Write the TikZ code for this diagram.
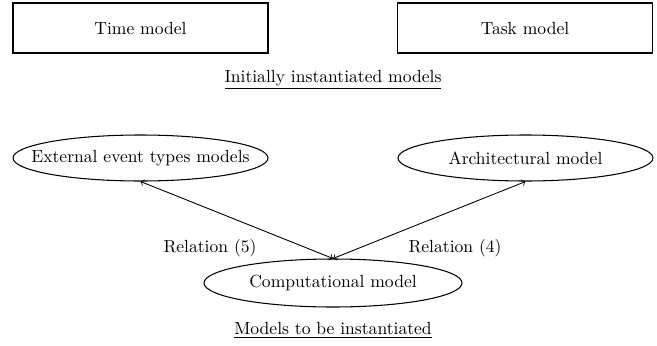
\documentclass[tikz,border=0pt]{standalone}
\usepackage{tikz}
\usetikzlibrary{shapes,arrows,positioning,calc}

\newcommand{\tightlabel}[1]{\makebox[0pt]{#1}}

\begin{document}
\begin{tikzpicture}[
 line width=0.6pt,
 model/.style={rectangle, draw, minimum width=5.1cm, minimum height=1cm, align=center},
 inst/.style={ellipse, draw, minimum width=5.1cm, minimum height=0.92cm, inner sep=0pt},
 arrow/.style={<->, line width=0.5pt},
 caption/.style={align=center},
 relation/.style={align=center}
]
\useasboundingbox (0,0) rectangle (13.14,-6.9);

% Row 1: initially instantiated models
\node[model] (time) at (2.81,-0.56) {Time model};
\node[model] (task) at (10.5,-0.56) {Task model};
\node[caption] (initial) at (6.66,-1.6) {\underline{Initially instantiated models}};

% Row 2: models to be instantiated
\node[inst] (external) at (2.81,-3.16) {\tightlabel{External event types models}};
\node[inst] (architecture) at (10.51,-3.16) {\tightlabel{Architectural model}};
\node[inst, minimum width=5.16cm, minimum height=0.96cm] (computation) at (6.66,-5.66) {\tightlabel{Computational model}};

% Relations
\node[relation] (rel5) at (4.2,-4.96) {Relation (5)};
\node[relation] (rel4) at (9.1,-4.96) {Relation (4)};

\draw[arrow] (external.south) -- (computation.north);
\draw[arrow] (architecture.south) -- (computation.north);

\node[caption] (toinst) at (6.66,-6.6) {\underline{Models to be instantiated}};

\end{tikzpicture}
\end{document}
